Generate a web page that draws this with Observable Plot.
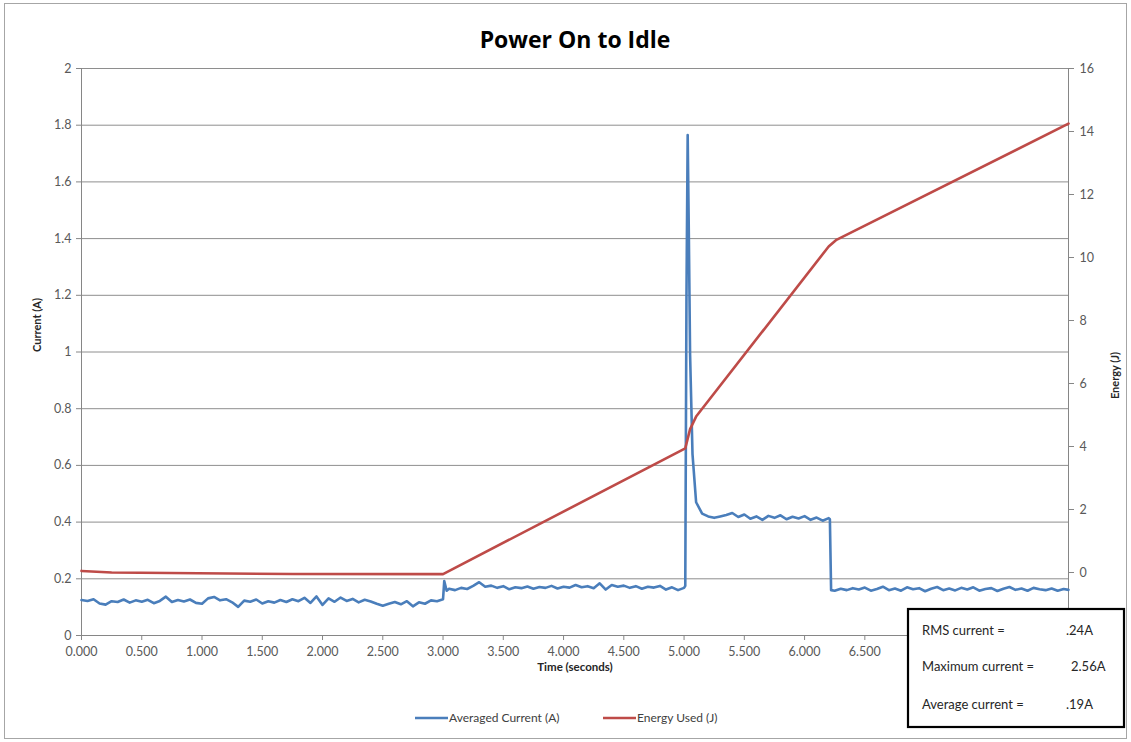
<!DOCTYPE html>
<html>
<head>
<meta charset="utf-8">
<script src="https://cdn.jsdelivr.net/npm/d3@7"></script>
<script src="https://cdn.jsdelivr.net/npm/@observablehq/plot@0.6"></script>
<style>
  html, body { margin: 0; padding: 0; background: #fff; }
  #chart svg { display: block; }
</style>
</head>
<body>
<div id="chart"></div>
<script>
// ---------- DATA ----------
const chartTitle = "Power On to Idle";
const xTitle = "Time (seconds)";
const yLeftTitle = "Current (A)";
const yRightTitle = "Energy (J)";
const seriesNames = ["Averaged Current (A)", "Energy Used (J)"];

const timeTicks = [0, 0.5, 1, 1.5, 2, 2.5, 3, 3.5, 4, 4.5, 5, 5.5, 6, 6.5, 7, 7.5, 8];
const currentTicks = [0, 0.2, 0.4, 0.6, 0.8, 1, 1.2, 1.4, 1.6, 1.8, 2];
const energyTicks = [0, 2, 4, 6, 8, 10, 12, 14, 16];
const timeMax = 8.19;
const energyDomain = [-2, 16];

// [time (s), averaged current (A)] — idle before boot
const currentIdle = [
  [0.00,0.125],[0.05,0.122],[0.10,0.128],[0.15,0.113],[0.20,0.109],[0.25,0.121],[0.30,0.118],[0.35,0.127],
  [0.40,0.116],[0.45,0.124],[0.50,0.119],[0.55,0.126],[0.60,0.114],[0.65,0.122],[0.70,0.137],[0.75,0.118],
  [0.80,0.125],[0.85,0.120],[0.90,0.127],[0.95,0.115],[1.00,0.112],[1.05,0.131],[1.10,0.136],[1.15,0.124],
  [1.20,0.128],[1.25,0.117],[1.30,0.101],[1.35,0.123],[1.40,0.119],[1.45,0.127],[1.50,0.113],[1.55,0.121],
  [1.60,0.116],[1.65,0.125],[1.70,0.118],[1.75,0.128],[1.80,0.121],[1.85,0.133],[1.90,0.115],[1.95,0.138],
  [2.00,0.108],[2.05,0.131],[2.10,0.119],[2.15,0.134],[2.20,0.122],[2.25,0.129],[2.30,0.117],[2.35,0.126],
  [2.40,0.120],[2.45,0.112],[2.50,0.105],[2.55,0.112],[2.60,0.118],[2.65,0.110],[2.70,0.121],[2.75,0.103],
  [2.80,0.117],[2.85,0.112],[2.90,0.124],[2.95,0.121],[3.00,0.128]
];
// boot phase
const currentBoot = [
  [3.01,0.192],[3.03,0.158],[3.05,0.165],[3.10,0.160],[3.15,0.168],[3.20,0.164],[3.25,0.175],[3.30,0.188],
  [3.35,0.172],[3.40,0.176],[3.45,0.168],[3.50,0.174],[3.55,0.163],[3.60,0.170],[3.65,0.167],[3.70,0.173],
  [3.75,0.165],[3.80,0.171],[3.85,0.168],[3.90,0.175],[3.95,0.166],[4.00,0.172],[4.05,0.169],[4.10,0.178],
  [4.15,0.170],[4.20,0.174],[4.25,0.167],[4.30,0.184],[4.35,0.162],[4.40,0.178],[4.45,0.172],[4.50,0.176],
  [4.55,0.168],[4.60,0.174],[4.65,0.165],[4.70,0.172],[4.75,0.169],[4.80,0.175],[4.85,0.162],[4.90,0.170],
  [4.95,0.160],[5.00,0.168],[5.01,0.175]
];
// inrush spike and active phase
const currentActive = [
  [5.02,1.200],[5.03,1.765],[5.04,1.400],[5.05,0.990],[5.07,0.640],[5.10,0.470],[5.15,0.430],[5.20,0.420],
  [5.25,0.415],[5.30,0.420],[5.35,0.425],[5.40,0.432],[5.45,0.418],[5.50,0.427],[5.55,0.412],[5.60,0.420],
  [5.65,0.408],[5.70,0.422],[5.75,0.415],[5.80,0.424],[5.85,0.410],[5.90,0.419],[5.95,0.413],[6.00,0.421],
  [6.05,0.408],[6.10,0.416],[6.15,0.405],[6.20,0.414],[6.21,0.410]
];
// idle after boot
const currentIdle2 = [
  [6.22,0.160],[6.25,0.158],[6.30,0.165],[6.35,0.160],[6.40,0.167],[6.45,0.162],[6.50,0.169],[6.55,0.158],
  [6.60,0.164],[6.65,0.172],[6.70,0.160],[6.75,0.166],[6.80,0.158],[6.85,0.170],[6.90,0.163],[6.95,0.167],
  [7.00,0.156],[7.05,0.165],[7.10,0.171],[7.15,0.160],[7.20,0.166],[7.25,0.159],[7.30,0.168],[7.35,0.162],
  [7.40,0.170],[7.45,0.158],[7.50,0.164],[7.55,0.167],[7.60,0.157],[7.65,0.165],[7.70,0.171],[7.75,0.161],
  [7.80,0.166],[7.85,0.158],[7.90,0.168],[7.95,0.163],[8.00,0.160],[8.05,0.166],[8.10,0.158],[8.15,0.164],
  [8.19,0.161]
];
// [time (s), energy used (J)]
const energyUsed = [
  [0.00,0.05],[0.25,0.00],[1.75,-0.05],[3.00,-0.05],[5.01,3.94],[5.05,4.55],[5.10,4.95],
  [6.20,10.35],[6.26,10.55],[8.19,14.25]
];

const statLabels = ["RMS current =", "Maximum current =", "Average current ="];
const statValues = [".24A", "2.56A", ".19A"];

// ---------- COLORS ----------
const blue = "#4a7ebb";
const red = "#be4b48";
const gridColor = "#8e8e8e";
const axisColor = "#868686";
const labelColor = "#595959";
const fontFamily = "Lato, 'Open Sans', sans-serif";

// ---------- BUILD ----------
const currentRows = [...currentIdle, ...currentBoot, ...currentActive, ...currentIdle2].map(([t, a]) => ({t, a}));
const energyRows = energyUsed.map(([t, e]) => ({t, e}));
// secondary axis: map energy onto the current (left) scale
const energyToLeft = d3.scaleLinear().domain(energyDomain).range([0, 2]);

const W = 1131, H = 742;
const chart = Plot.plot({
  width: W,
  height: H,
  marginLeft: 81,
  marginRight: 63,
  marginTop: 68,
  marginBottom: 107,
  style: {fontFamily, fontSize: "13px", color: labelColor, background: "#fff", overflow: "visible"},
  x: {domain: [0, timeMax]},
  y: {domain: [0, 2]},
  marks: [
    Plot.ruleY(currentTicks.filter(d => d > 0), {stroke: gridColor, strokeWidth: 1}),
    Plot.ruleY([0], {stroke: axisColor, strokeWidth: 1}),
    Plot.ruleX([0, timeMax], {stroke: axisColor, strokeWidth: 1}),
    Plot.axisY(currentTicks, {anchor: "left", tickSize: 5, tickPadding: 5, stroke: axisColor, fill: labelColor,
      tickFormat: d => String(d), label: null, fontSize: 12.5}),
    Plot.axisY(energyTicks.map(e => energyToLeft(e)), {anchor: "right", tickSize: 5, tickPadding: 6, stroke: axisColor,
      fill: labelColor, tickFormat: v => String(Math.round(energyToLeft.invert(v)) + 0), label: null, fontSize: 12.5}),
    Plot.axisX(timeTicks, {anchor: "bottom", tickSize: 5, tickPadding: 7, stroke: axisColor, fill: labelColor,
      tickFormat: d3.format(".3f"), label: null, fontSize: 12.5}),
    Plot.line(currentRows, {x: "t", y: "a", stroke: blue, strokeWidth: 2.6, strokeLinejoin: "round"}),
    Plot.line(energyRows, {x: "t", y: d => energyToLeft(d.e), stroke: red, strokeWidth: 2.6, strokeLinejoin: "round"}),
    Plot.text([chartTitle], {frameAnchor: "top", dy: -37, fontSize: 23, fontWeight: "bold", fill: "#000",
      fontFamily: "'Open Sans', Lato, sans-serif"}),
    Plot.text([yLeftTitle], {frameAnchor: "left", dx: -44, rotate: -90, fontSize: 11, fontWeight: "bold", fill: "#262626"}),
    Plot.text([yRightTitle], {frameAnchor: "right", dx: 47, rotate: -90, fontSize: 11, fontWeight: "bold", fill: "#262626"}),
    Plot.text([xTitle], {frameAnchor: "bottom", dy: 35, fontSize: 11.5, fontWeight: "bold", fill: "#262626"})
  ]
});

const svg = d3.select(chart);
// outer chart border
svg.append("rect").attr("x", 4.5).attr("y", 3.5).attr("width", W - 9).attr("height", H - 7)
  .attr("fill", "none").attr("stroke", "#a6a6a6").attr("stroke-width", 1);

// legend
const legend = svg.append("g").attr("font-family", fontFamily).attr("font-size", 12).attr("fill", "#404040")
  .attr("text-anchor", "start");
const legendItems = [{name: seriesNames[0], color: blue, x: 415}, {name: seriesNames[1], color: red, x: 603}];
legendItems.forEach(it => {
  legend.append("line").attr("x1", it.x).attr("x2", it.x + 33).attr("y1", 718).attr("y2", 718)
    .attr("stroke", it.color).attr("stroke-width", 2.6);
  legend.append("text").attr("x", it.x + 34).attr("y", 718).attr("dy", "0.35em").text(it.name);
});

// statistics box
const box = svg.append("g").attr("font-family", fontFamily).attr("font-size", 13).attr("fill", "#262626")
  .attr("text-anchor", "start");
box.append("rect").attr("x", 908).attr("y", 609).attr("width", 216).attr("height", 118)
  .attr("fill", "#fff").attr("stroke", "#000").attr("stroke-width", 2.2);
const rowY = [630, 666, 704];
const valueX = [1066, 1071, 1066];
statLabels.forEach((s, i) => {
  box.append("text").attr("x", 922).attr("y", rowY[i]).attr("dy", "0.35em").text(s);
  box.append("text").attr("x", valueX[i]).attr("y", rowY[i]).attr("dy", "0.35em").text(statValues[i]);
});

document.getElementById("chart").appendChild(chart);
</script>
</body>
</html>
